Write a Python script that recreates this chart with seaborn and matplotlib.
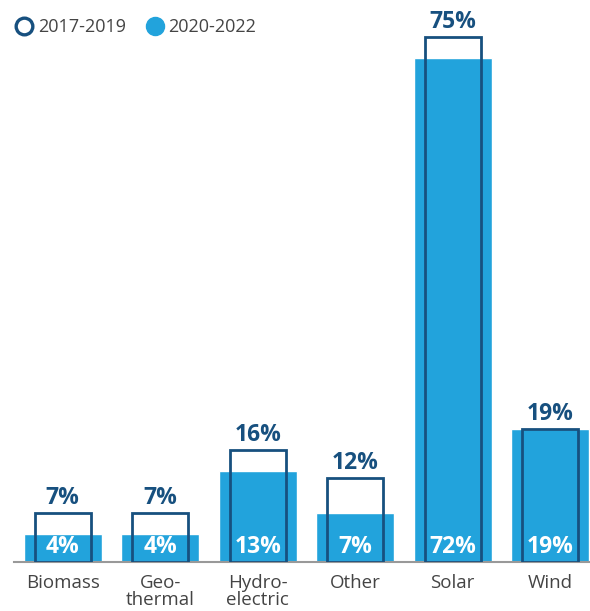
import matplotlib
matplotlib.use("Agg")
import matplotlib.pyplot as plt
from matplotlib.lines import Line2D
import seaborn as sns

categorias = ["Biomass", "Geo-\nthermal", "Hydro-\nelectric", "Other", "Solar", "Wind"]
valores_2017_2019 = [7, 7, 16, 12, 75, 19]
valores_2020_2022 = [4, 4, 13, 7, 72, 19]
series = ["2017-2019", "2020-2022"]

AZUL = "#22a3dc"
NAVY = "#17507f"
GRIS = "#444444"

sns.set_style("white")
plt.rcParams["font.family"] = ["Open Sans", "DejaVu Sans"]

fig = plt.figure(figsize=(5.9, 6.11), dpi=100)
ax = fig.add_axes([14 / 590, 49 / 611, 576 / 590, 542 / 611])

sns.barplot(x=categorias, y=valores_2020_2022, color=AZUL, saturation=1,
            width=0.8, ax=ax, zorder=2)
sns.barplot(x=categorias, y=valores_2017_2019, color=NAVY, fill=False,
            width=0.575, linewidth=2, ax=ax, zorder=3)

for i, (v1, v2) in enumerate(zip(valores_2017_2019, valores_2020_2022)):
    ax.annotate(f"{v1}%", (i, v1), xytext=(0, 2), textcoords="offset points",
                ha="center", va="bottom", fontsize=16.5, fontweight="bold", color=NAVY)
    ax.annotate(f"{v2}%", (i, 0), xytext=(0, 2), textcoords="offset points",
                ha="center", va="bottom", fontsize=16.5, fontweight="bold", color="white",
                zorder=4)

ax.set_xlim(-0.5, 5.41)
ax.set_ylim(0, 542 / 7)
ax.set_yticks([])
ax.set_ylabel("")
for s in ["top", "right", "left"]:
    ax.spines[s].set_visible(False)
ax.spines["bottom"].set_color("#999999")
ax.spines["bottom"].set_linewidth(1.5)
ax.tick_params(axis="x", length=0, pad=9, labelsize=13.5, labelcolor=GRIS)
for lbl in ax.get_xticklabels():
    lbl.set_linespacing(0.9)

handles = [
    Line2D([], [], marker="o", linestyle="", markersize=12, markerfacecolor="white",
           markeredgecolor=NAVY, markeredgewidth=2.4),
    Line2D([], [], marker="o", linestyle="", markersize=13, markerfacecolor=AZUL,
           markeredgecolor=AZUL),
]
fig.legend(handles, series, loc="upper left", bbox_to_anchor=(0.0, 0.995), ncol=2,
           frameon=False, fontsize=13, handletextpad=0.25, columnspacing=1.1,
           handlelength=1.0, borderaxespad=0.45, labelcolor=GRIS)

fig.savefig("out.png", dpi=100)
